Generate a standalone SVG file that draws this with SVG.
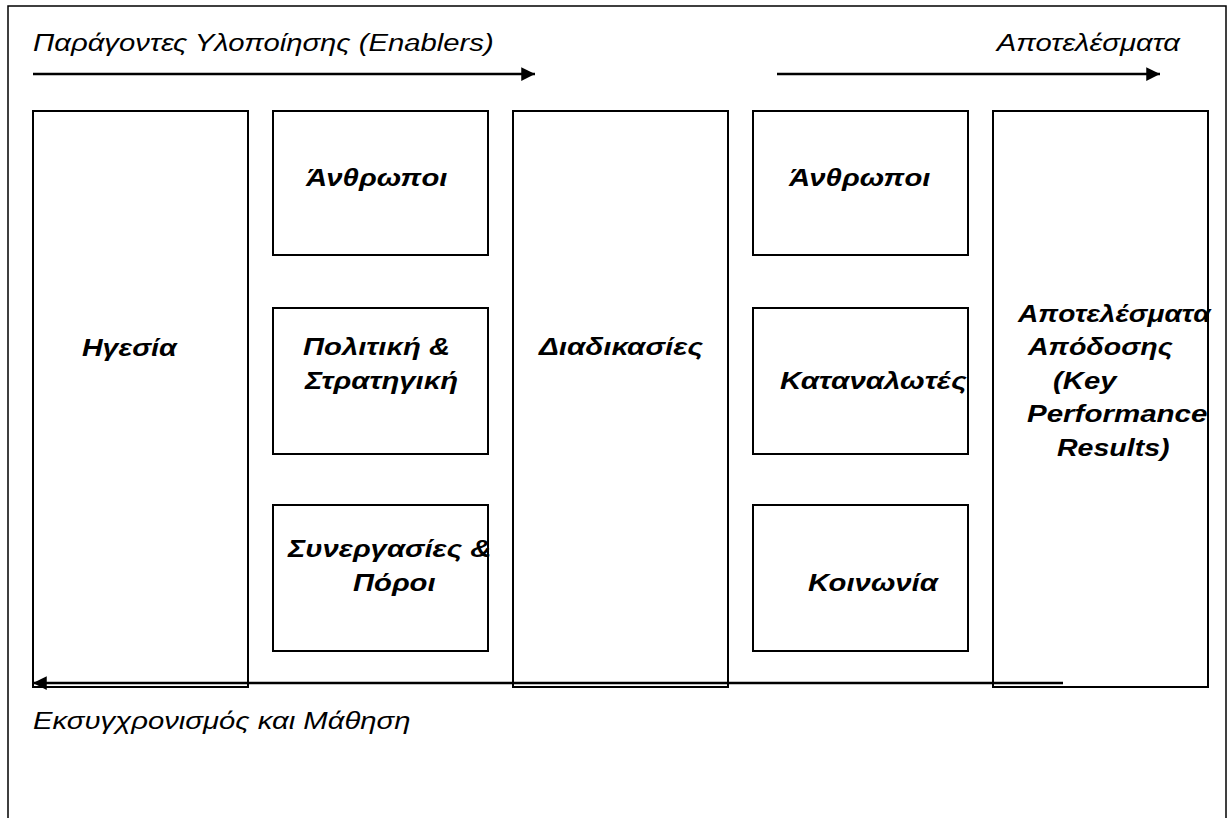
<svg xmlns="http://www.w3.org/2000/svg" width="1228" height="818" viewBox="0 0 1228 818">
<style>
.box{fill:#fff;stroke:#000;stroke-width:2}
.lbl{font-family:"Liberation Sans",Arial,sans-serif;font-style:italic;font-weight:bold;font-size:24px;fill:#000}
.cap{font-family:"Liberation Sans",Arial,sans-serif;font-style:italic;font-size:24px;fill:#000}
.ln{stroke:#000;stroke-width:2.5;fill:none}
</style>
<defs>
<marker id="ah" viewBox="0 0 10 10" refX="10" refY="5" markerWidth="6" markerHeight="5.5" orient="auto" markerUnits="strokeWidth">
<path d="M0,0 L10,5 L0,10 z" fill="#000"/>
</marker>
</defs>
<rect width="1228" height="818" fill="#fff"/>
<rect x="8" y="6" width="1218" height="830" fill="none" stroke="#000" stroke-width="1.5"/>
<text class="cap" transform="translate(33,51) scale(1.22,1)">Παράγοντες Υλοποίησης (Enablers)</text>
<text class="cap" transform="translate(1180,51) scale(1.22,1)" text-anchor="end">Αποτελέσματα</text>
<text class="cap" transform="translate(33,729) scale(1.22,1)">Εκσυγχρονισμός και Μάθηση</text>
<g id="n-igesia"><rect class="box" x="33" y="111" width="215" height="576"/><text class="lbl" transform="translate(82,356) scale(1.19,1)">Ηγεσία</text></g>
<g id="n-anthropoi1"><rect class="box" x="273" y="111" width="215" height="144"/><text class="lbl" transform="translate(306,186) scale(1.22,1)">Άνθρωποι</text></g>
<g id="n-politiki"><rect class="box" x="273" y="308" width="215" height="146"/><text class="lbl" transform="translate(303,355) scale(1.22,1)">Πολιτική &amp;</text><text class="lbl" transform="translate(305,389) scale(1.22,1)">Στρατηγική</text></g>
<g id="n-synergasies"><rect class="box" x="273" y="505" width="215" height="146"/><text class="lbl" transform="translate(288,557) scale(1.22,1)">Συνεργασίες &amp;</text><text class="lbl" transform="translate(353,591) scale(1.22,1)">Πόροι</text></g>
<g id="n-diadikasies"><rect class="box" x="513" y="111" width="215" height="576"/><text class="lbl" transform="translate(539,355) scale(1.23,1)">Διαδικασίες</text></g>
<g id="n-anthropoi2"><rect class="box" x="753" y="111" width="215" height="144"/><text class="lbl" transform="translate(789,186) scale(1.22,1)">Άνθρωποι</text></g>
<g id="n-katanalotes"><rect class="box" x="753" y="308" width="215" height="146"/><text class="lbl" transform="translate(780,389) scale(1.23,1)">Καταναλωτές</text></g>
<g id="n-koinonia"><rect class="box" x="753" y="505" width="215" height="146"/><text class="lbl" transform="translate(808,591) scale(1.22,1)">Κοινωνία</text></g>
<g id="n-results"><rect class="box" x="993" y="111" width="215" height="576"/>
<text class="lbl" transform="translate(1018,322) scale(1.17,1)">Αποτελέσματα</text>
<text class="lbl" transform="translate(1028,355) scale(1.19,1)">Απόδοσης</text>
<text class="lbl" transform="translate(1053,389) scale(1.22,1)">(Key</text>
<text class="lbl" transform="translate(1027,422) scale(1.23,1)">Performance</text>
<text class="lbl" transform="translate(1057,456) scale(1.19,1)">Results)</text></g>
<g id="connectors">
<line class="ln" x1="33" y1="74" x2="535" y2="74" marker-end="url(#ah)"/>
<line class="ln" x1="777" y1="74" x2="1160" y2="74" marker-end="url(#ah)"/>
<line class="ln" x1="1063" y1="683" x2="33" y2="683" marker-end="url(#ah)"/>
</g>
</svg>
